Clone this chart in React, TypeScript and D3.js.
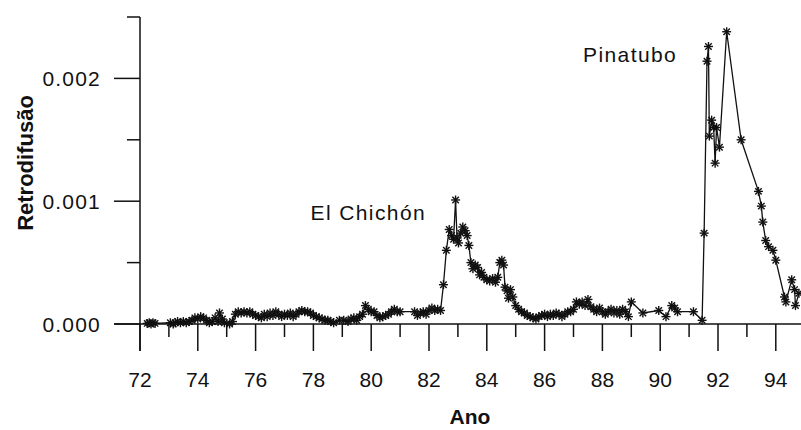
import React from "react";
import * as d3 from "d3";

const years: number[] = [
  72.25, 72.32, 72.38, 72.45, 72.52,
  73.05, 73.15, 73.22, 73.3, 73.4, 73.5, 73.6, 73.7, 73.8, 73.9,
  74.0, 74.1, 74.2, 74.3, 74.4, 74.5, 74.6, 74.7, 74.75, 74.85, 74.92,
  75.1, 75.2, 75.3, 75.4, 75.5, 75.6, 75.7, 75.8, 75.9,
  76.0, 76.1, 76.2, 76.3, 76.4, 76.5, 76.6, 76.7, 76.8, 76.9,
  77.0, 77.1, 77.2, 77.3, 77.4, 77.5, 77.6, 77.7, 77.8, 77.9,
  78.0, 78.1, 78.2, 78.3, 78.4, 78.5, 78.6, 78.7, 78.9,
  79.05, 79.2, 79.3, 79.4, 79.5, 79.6, 79.7, 79.8, 79.9,
  80.0, 80.1, 80.2, 80.3, 80.4, 80.5, 80.6, 80.7, 80.8, 80.9,
  81.0, 81.5, 81.6, 81.7, 81.8, 81.9,
  82.0, 82.1, 82.2, 82.3, 82.4, 82.5, 82.6, 82.7, 82.78, 82.85, 82.92, 82.97,
  83.02, 83.1, 83.17, 83.25, 83.32, 83.38, 83.45, 83.52, 83.6, 83.68, 83.75, 83.82, 83.9,
  84.0, 84.1, 84.2, 84.3, 84.38, 84.45, 84.52, 84.58, 84.63, 84.7, 84.75, 84.82, 84.9,
  85.0, 85.1, 85.2, 85.3, 85.4, 85.5, 85.6, 85.7, 85.8, 85.9,
  86.0, 86.1, 86.2, 86.3, 86.4, 86.5, 86.6, 86.7, 86.8, 86.9,
  87.0, 87.1, 87.2, 87.3, 87.4, 87.5, 87.6, 87.7, 87.8, 87.9,
  88.0, 88.1, 88.2, 88.3, 88.4, 88.5, 88.6, 88.7, 88.8, 88.9,
  89.0, 89.4, 89.95, 90.2, 90.4, 90.5, 90.6, 91.15, 91.45,
  91.52, 91.62, 91.67, 91.7, 91.78, 91.85, 91.9, 91.95, 92.05, 92.3, 92.8,
  93.4, 93.5, 93.55, 93.65, 93.75, 93.9, 94.0, 94.3, 94.35, 94.55, 94.65, 94.68, 94.8,
];

const backscatter: number[] = [
  0.000005, 0.00001, 0.0, 0.00001, 0.000005,
  0.00001, 0.0, 0.00001, 0.00002, 0.00001, 0.00002, 0.00001, 0.00002, 0.00003, 0.00005,
  0.00004, 0.00006, 0.00005, 0.00003, 0.00001, 0.00002, 0.00005, 0.00002, 0.00009, 0.00004, 0.00001,
  0.0, 0.00002, 0.00008, 0.0001, 0.00009, 0.0001, 0.00009, 0.0001, 0.00008,
  0.00007, 0.00006, 0.00005, 0.00008, 0.00006, 0.00009, 0.00007, 0.0001, 0.00008, 0.00006,
  0.00008, 0.00007, 0.00009, 0.00006, 0.00008, 0.0001, 0.00011, 0.0001, 0.0001, 0.00009,
  0.00007, 0.00006, 0.00005, 0.00004, 0.00003, 0.00003, 0.00002, 0.00001, 0.00003,
  0.00003, 0.00002, 0.00004, 0.00005, 0.00003, 0.00006, 0.00008, 0.00015, 0.00012,
  0.0001, 0.0001, 0.00007, 0.00005, 0.00006, 0.00007, 0.00008, 0.0001, 0.00012, 0.0001,
  0.0001, 0.0001, 0.00007, 0.00009, 0.0001, 0.00008,
  0.00011, 0.00013, 0.00011, 0.00012, 0.00011, 0.00032, 0.0006, 0.00077, 0.00072, 0.00069, 0.00101, 0.0007,
  0.00066, 0.00074, 0.00079, 0.00076, 0.00072, 0.00064, 0.0005, 0.00045, 0.00048, 0.00046, 0.0004, 0.00042, 0.00038,
  0.00036, 0.00035, 0.00037, 0.00034, 0.00038, 0.0005, 0.00052, 0.00048, 0.0003, 0.00027, 0.00021, 0.00028, 0.00022,
  0.00015, 0.00012, 0.0001, 0.00009, 0.00007, 0.00006, 0.00005, 0.00004, 0.00006, 0.00007,
  0.00008, 0.00006, 0.00008, 0.00007, 0.00009, 0.00008, 0.00006, 0.00008, 0.0001, 0.0001,
  0.00012, 0.00018, 0.00016, 0.00018, 0.00015, 0.0002, 0.00014, 0.00012, 0.0001, 0.00013,
  0.0001, 0.00008, 0.0001, 0.00012, 0.00009, 0.00011, 0.00008, 0.00012, 0.0001, 0.00006,
  0.00018, 0.00009, 0.00011, 0.00006, 0.00015, 0.00013, 0.0001, 0.0001, 0.00003,
  0.00074, 0.00214, 0.00226, 0.00153, 0.00166, 0.0016, 0.00131, 0.0016, 0.00144, 0.00238, 0.0015,
  0.00108, 0.00096, 0.00083, 0.00068, 0.00063, 0.0006, 0.00052, 0.00022, 0.00018, 0.00036, 0.00028, 0.00015, 0.00025,
];

const xTicks: number[] = [72, 73, 74, 75, 76, 77, 78, 79, 80, 81, 82, 83, 84, 85, 86, 87, 88, 89, 90, 91, 92, 93, 94];
const yTicks: number[] = [0, 0.0005, 0.001, 0.0015, 0.002, 0.0025];
const yTickLabels: string[] = ["0.000", "0.001", "0.002"];
const annotations: { label: string; year: number; value: number }[] = [
  { label: "El Chichón", year: 77.9, value: 0.00085 },
  { label: "Pinatubo", year: 87.33, value: 0.00213 },
];

const FONT = "'Liberation Sans', Arial, sans-serif";

export default function App() {
  const x = d3.scaleLinear().domain([72, 95]).range([140, 140 + 23 * 28.9]);
  const y = d3.scaleLinear().domain([0, 0.0025]).range([324, 17]);
  const pts = years.map((yr, i) => [yr, backscatter[i]] as [number, number]);
  const line = d3
    .line<[number, number]>()
    .x((d) => x(d[0]))
    .y((d) => y(d[1]));
  const ink = "#111";
  const r = 4.5;
  return (
    <svg
      width={801}
      height={430}
      style={{ position: "absolute", left: 0, top: 0, background: "#fff" }}
      fontFamily={FONT}
    >
      <rect width={801} height={430} fill="#fff" />
      <line x1={x(72)} x2={x(72)} y1={y(0.0025)} y2={351} stroke={ink} strokeWidth={1.5} />
      <line x1={114} x2={801} y1={y(0)} y2={y(0)} stroke={ink} strokeWidth={1.5} />
      {xTicks.map((t) => (
        <line
          key={"xt" + t}
          x1={x(t)}
          x2={x(t)}
          y1={y(0)}
          y2={t % 2 === 0 ? 351 : 337}
          stroke={ink}
          strokeWidth={1.5}
        />
      ))}
      {xTicks
        .filter((t) => t % 2 === 0)
        .map((t) => (
          <text key={"xl" + t} x={x(t)} y={387} textAnchor="middle" fontSize={21} fill={ink}>
            {String(t)}
          </text>
        ))}
      {yTicks.map((t, i) => (
        <line
          key={"yt" + t}
          x1={i % 2 === 0 ? 114 : 127}
          x2={x(72)}
          y1={y(t)}
          y2={y(t)}
          stroke={ink}
          strokeWidth={1.5}
        />
      ))}
      {yTicks
        .filter((_, i) => i % 2 === 0 && i / 2 < yTickLabels.length)
        .map((t, i) => (
          <text
            key={"yl" + t}
            x={101}
            y={y(t) + 8}
            textAnchor="end"
            fontSize={21}
            letterSpacing={1.2}
            fill={ink}
          >
            {yTickLabels[i]}
          </text>
        ))}
      <text
        transform="translate(33,163) rotate(-90)"
        textAnchor="middle"
        fontSize={22}
        fontWeight="bold"
        fill={ink}
      >
        Retrodifusão
      </text>
      <text x={470} y={424} textAnchor="middle" fontSize={21} fontWeight="bold" fill={ink}>
        Ano
      </text>
      <path d={line(pts) || ""} fill="none" stroke={ink} strokeWidth={1.3} />
      {pts.map((p, i) => {
        const cx = x(p[0]);
        const cy = y(p[1]);
        const d = r * 0.72;
        return (
          <g key={"m" + i} stroke={ink} strokeWidth={1.4}>
            <line x1={cx - r} x2={cx + r} y1={cy} y2={cy} />
            <line x1={cx} x2={cx} y1={cy - r} y2={cy + r} />
            <line x1={cx - d} x2={cx + d} y1={cy - d} y2={cy + d} />
            <line x1={cx - d} x2={cx + d} y1={cy + d} y2={cy - d} />
          </g>
        );
      })}
      {annotations.map((a) => (
        <text key={a.label} x={x(a.year)} y={y(a.value)} fontSize={21} letterSpacing={1.4} fill={ink}>
          {a.label}
        </text>
      ))}
    </svg>
  );
}
